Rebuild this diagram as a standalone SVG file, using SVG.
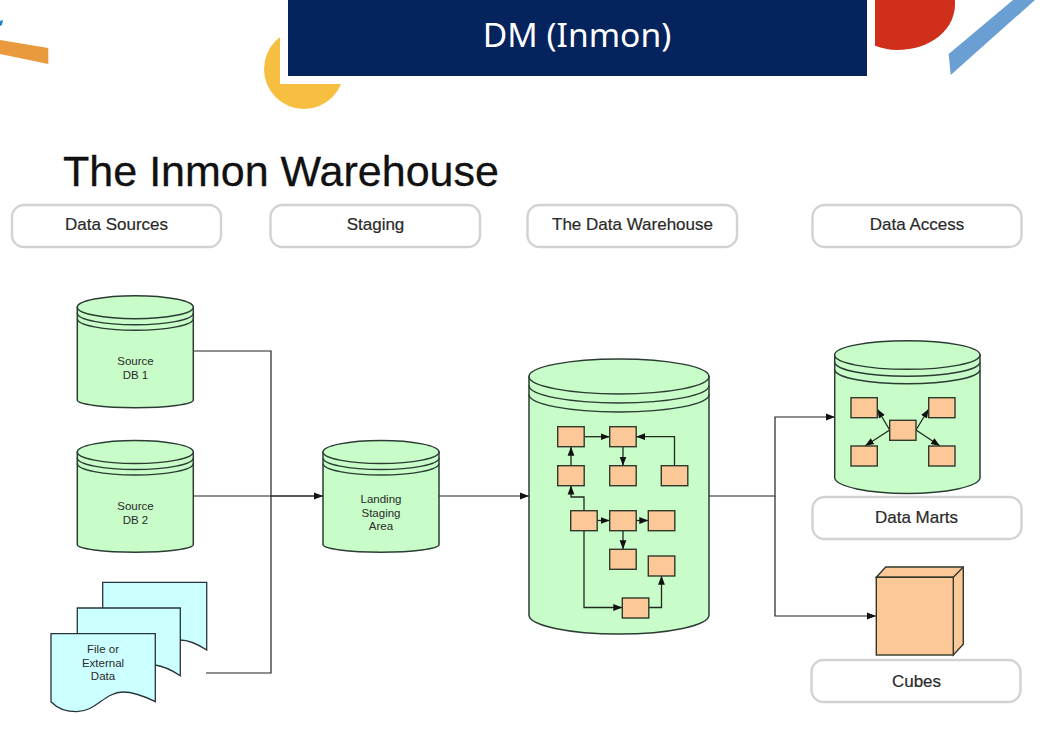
<svg xmlns="http://www.w3.org/2000/svg" width="1060" height="732" viewBox="0 0 1060 732">
<style>
.cyl{fill:#c8fcc8;stroke:#2b3d33;stroke-width:1.5}
.ring{fill:none;stroke:#2b3d33;stroke-width:1.4}
.box{fill:#fdc897;stroke:#2f3a2c;stroke-width:1.4}
.doc{fill:#ccffff;stroke:#26343a;stroke-width:1.3}
.pill{fill:#fff;stroke:#d2d2d2;stroke-width:2.4}
.conn{fill:none;stroke:#222;stroke-width:1.2}
.inner{fill:none;stroke:#1e2b1e;stroke-width:1.3}
text{font-family:"Liberation Sans",Arial,sans-serif;text-anchor:middle}
.pl{font-size:17px;fill:#2a2a2a;stroke:#2a2a2a;stroke-width:.2}
.sm{font-size:11.5px;fill:#2a2a2a}
</style>
<defs>
<marker id="ah" markerUnits="userSpaceOnUse" markerWidth="10" markerHeight="8" refX="9" refY="4" orient="auto"><path d="M0 0.6L9 4L0 7.4z" fill="#111"/></marker>
</defs>
<rect width="1060" height="732" fill="#fff"/>
<g id="decor">
<polygon points="0,40 48.3,48 48.3,64 0,54" fill="#e99a3c"/>
<polygon points="0,21 3,20 2,25 0,26" fill="#1f86c6"/>
<circle cx="304" cy="69" r="40" fill="#f6bf41"/>
<path d="M875 0H955C957 30 930 50 897 50C889 50 882 48 875 45.7z" fill="#d02f1c"/>
<polygon points="948.7,54 1013,0 1035,0 950.7,75" fill="#6a9fd4"/>
<rect x="280" y="0" width="595" height="84" fill="#fff"/>
</g>
<g id="header">
<rect x="288" y="0" width="579" height="76" fill="#05235c"/>
<text x="577" y="47" style="font-family:'Noto Sans','Open Sans',sans-serif;font-size:33.6px" fill="#fff">DM (Inmon)</text>
</g>
<text id="title" x="281" y="186" style="font-size:43px;stroke:#111;stroke-width:.3" fill="#111">The Inmon Warehouse</text>
<g id="pill-sources"><rect class="pill" x="12" y="205" width="209" height="42" rx="12"/><text class="pl" x="116.500" y="230">Data Sources</text></g>
<g id="pill-staging"><rect class="pill" x="270.500" y="205" width="209.500" height="42" rx="12"/><text class="pl" x="375.500" y="230">Staging</text></g>
<g id="pill-dw"><rect class="pill" x="527.500" y="205" width="209.500" height="42" rx="12"/><text class="pl" x="632.500" y="230">The Data Warehouse</text></g>
<g id="pill-access"><rect class="pill" x="812.500" y="205" width="209" height="42" rx="12"/><text class="pl" x="917" y="230">Data Access</text></g>
<g id="connectors">
<path class="conn" d="M193.300 351H271V673H206"/>
<path class="conn" d="M193.300 496H323" marker-end="url(#ah)"/>
<path class="conn" d="M271 496H323"/>
<path class="conn" d="M439 496H529" marker-end="url(#ah)"/>
<path class="conn" d="M709 496H775V417H835" marker-end="url(#ah)"/>
<path class="conn" d="M775 496V616H876" marker-end="url(#ah)"/>
</g>
<g id="source-db1">
<path class="cyl" d="M77.300 307.200V400A58 7.700 0 0 0 193.300 400V307.200z"/>
<ellipse class="cyl" cx="135.300" cy="307.200" rx="58" ry="11.500"/>
<path class="ring" d="M77.300 313.200A58 11.500 0 0 0 193.300 313.200M77.300 318.700A58 11.500 0 0 0 193.300 318.700"/>
<text class="sm" x="135.500" y="365">Source</text><text class="sm" x="135.500" y="379">DB 1</text>
</g>
<g id="source-db2">
<path class="cyl" d="M77.300 452V544.500A58 7.700 0 0 0 193.300 544.500V452z"/>
<ellipse class="cyl" cx="135.300" cy="452" rx="58" ry="11.500"/>
<path class="ring" d="M77.300 458A58 11.500 0 0 0 193.300 458M77.300 463.500A58 11.500 0 0 0 193.300 463.500"/>
<text class="sm" x="135.500" y="510">Source</text><text class="sm" x="135.500" y="524">DB 2</text>
</g>
<g id="landing">
<path class="cyl" d="M323 452V544.500A58 7.700 0 0 0 439 544.500V452z"/>
<ellipse class="cyl" cx="381" cy="452" rx="58" ry="11.500"/>
<path class="ring" d="M323 458A58 11.500 0 0 0 439 458M323 463.500A58 11.500 0 0 0 439 463.500"/>
<text class="sm" x="381" y="503">Landing</text><text class="sm" x="381" y="517">Staging</text><text class="sm" x="381" y="530">Area</text>
</g>
<g id="files">
<path class="doc" d="M102.700 582.300H206.700V650C196 643 188 640 180 640L102.700 640z"/>
<path class="doc" d="M77.300 608H180.300V675.700C170 669 163 666 155 665L77.300 665z"/>
<path class="doc" d="M51 633.700H155.300V701.700C140 694 132 692 123 692C105 692 96 711.700 76.700 711.700C65 711.700 56 707 51 701.700z"/>
<text class="sm" x="103" y="653">File or</text><text class="sm" x="103" y="667">External</text><text class="sm" x="103" y="680">Data</text>
</g>
<g id="warehouse">
<path class="cyl" d="M529 376.500V615A90 19 0 0 0 709 615V376.500z"/>
<ellipse class="cyl" cx="619" cy="376.500" rx="90" ry="17.500"/>
<path class="ring" d="M529 385.500A90 17.500 0 0 0 709 385.500M529 394.500A90 17.500 0 0 0 709 394.500"/>
<g id="warehouse-links">
<path class="inner" d="M584.300 436.700H609.700" marker-end="url(#ah)"/>
<path class="inner" d="M623 446.700V465.700" marker-end="url(#ah)"/>
<path class="inner" d="M674.500 465.700V436.700H636" marker-end="url(#ah)"/>
<path class="inner" d="M571 465.700V446.700" marker-end="url(#ah)"/>
<path class="inner" d="M584 510.700V497H571V485.500" marker-end="url(#ah)"/>
<path class="inner" d="M597 520.500H609.700" marker-end="url(#ah)"/>
<path class="inner" d="M636 520.500H648.300" marker-end="url(#ah)"/>
<path class="inner" d="M623 530.500V549.300" marker-end="url(#ah)"/>
<path class="inner" d="M584 530.500V607.500H622.300" marker-end="url(#ah)"/>
<path class="inner" d="M648.700 607.500H661.500V575.800" marker-end="url(#ah)"/>
</g>
<rect class="box" x="557.700" y="426.700" width="26.500" height="20"/>
<rect class="box" x="609.700" y="426.700" width="26.500" height="20"/>
<rect class="box" x="557.700" y="465.700" width="26.500" height="20"/>
<rect class="box" x="609.700" y="465.700" width="26.500" height="20"/>
<rect class="box" x="661.300" y="465.700" width="26.500" height="20"/>
<rect class="box" x="570.700" y="510.700" width="26.500" height="20"/>
<rect class="box" x="609.700" y="510.700" width="26.500" height="20"/>
<rect class="box" x="648.300" y="510.700" width="26.500" height="20"/>
<rect class="box" x="609.700" y="549.300" width="26.500" height="20"/>
<rect class="box" x="648.300" y="556" width="26.500" height="20"/>
<rect class="box" x="622.300" y="598" width="26.500" height="20"/>
</g>
<g id="data-marts">
<path class="cyl" d="M834.700 355V478A72.700 16 0 0 0 980 478V355z"/>
<ellipse class="cyl" cx="907.300" cy="355" rx="72.700" ry="14.300"/>
<path class="ring" d="M834.700 362.500A72.700 14.300 0 0 0 980 362.500M834.700 370A72.700 14.300 0 0 0 980 370"/>
<path class="inner" d="M889.700 430L877.300 409" marker-end="url(#ah)"/>
<path class="inner" d="M916 430L928.700 409" marker-end="url(#ah)"/>
<path class="inner" d="M889.700 430L865 446" marker-end="url(#ah)"/>
<path class="inner" d="M916 430L940 446" marker-end="url(#ah)"/>
<rect class="box" x="851" y="397.700" width="26.300" height="20"/>
<rect class="box" x="928.700" y="397.700" width="26.300" height="20"/>
<rect class="box" x="889.700" y="420.300" width="26.300" height="20"/>
<rect class="box" x="851" y="446" width="26.300" height="20"/>
<rect class="box" x="928.700" y="446" width="26.300" height="20"/>
</g>
<g id="pill-marts"><rect class="pill" x="812.500" y="497" width="209" height="42" rx="12"/><text class="pl" x="916.500" y="523">Data Marts</text></g>
<g id="cube">
<path class="box" d="M876.300 577.300L885.700 567H963.300V644.300L953.300 655V577.300z"/>
<path class="box" d="M953.300 577.300L963.300 567"/>
<rect class="box" x="876.300" y="577.300" width="77" height="77.700"/>
</g>
<g id="pill-cubes"><rect class="pill" x="811.500" y="660" width="209" height="42" rx="12"/><text class="pl" x="916.500" y="687">Cubes</text></g>
</svg>
